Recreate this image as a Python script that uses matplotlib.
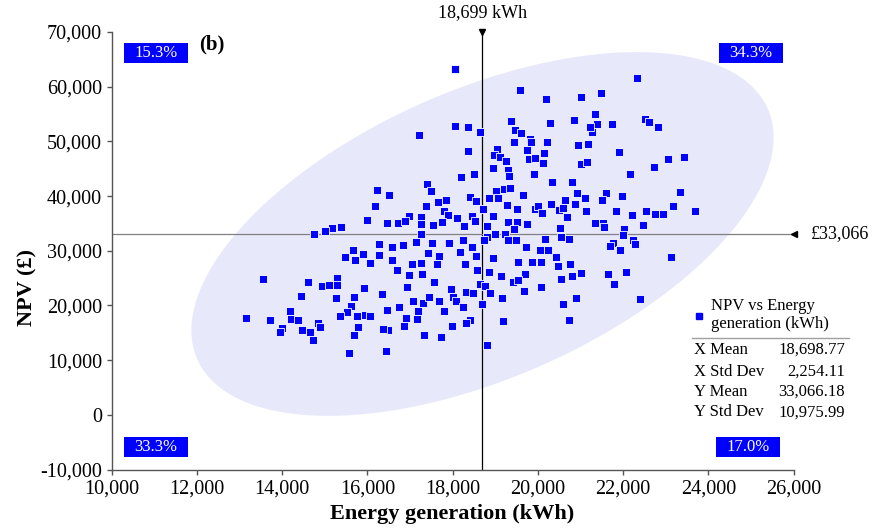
import numpy as np
import matplotlib
matplotlib.use('Agg')
import matplotlib.pyplot as plt
from matplotlib.patches import Rectangle
from matplotlib.ticker import FuncFormatter, FixedLocator
from matplotlib.lines import Line2D

# ---------------- data ----------------
energy_kwh = [
    17220, 17400, 17490, 16230, 16510, 16180, 17380, 17650, 17850, 17800,
    17900, 15980, 16970, 17260, 16460, 16710, 16880, 17260, 17530, 17760,
    15390, 15180, 14750, 15010, 17250, 16280, 16580, 16840, 17130, 17510,
    17900, 15650, 15900, 16280, 17430, 17680, 15470, 15710, 16050, 16570,
    17050, 17250, 17620, 16690, 16970, 17290, 13560, 15290, 14600, 14930,
    15100, 15290, 15920, 16930, 17560, 16350, 14430, 15260, 15690, 17070,
    17300, 17450, 17680, 15610, 16730, 16460, 17190, 17790, 14190, 15510,
    15360, 15760, 15940, 16060, 16900, 17160, 13150, 13710, 14210, 14360,
    14840, 14890, 13990, 13960, 14460, 14660, 15790, 16480, 16360, 16860,
    15690, 17330, 17720, 14730, 15560, 16440, 18050, 19580, 20180, 21020,
    21470, 22320, 19370, 20280, 20840, 21350, 21380, 21740, 22500, 22610,
    22820, 18050, 18370, 18640, 19470, 19600, 21260, 21220, 19430, 19810,
    19830, 20210, 20930, 21170, 18370, 19040, 18980, 19110, 19740, 20140,
    21890, 19240, 19780, 19940, 20120, 21020, 21150, 22730, 18950, 19290,
    19310, 19900, 22160, 18190, 18500, 20320, 20790, 19020, 19200, 19350,
    19650, 20910, 21600, 21970, 18410, 18550, 18840, 19060, 19270, 19520,
    19920, 19990, 20310, 20490, 20630, 20590, 20860, 21110, 21500, 18710,
    21130, 21830, 22210, 22540, 22750, 18100, 18450, 18530, 18950, 20100,
    20680, 18260, 18800, 19290, 19520, 19740, 19440, 20520, 21340, 21530,
    21550, 22030, 22460, 18800, 19000, 19230, 20530, 20730, 22000, 17920,
    18230, 18730, 19290, 19490, 20170, 21760, 21690, 22230, 22280, 18450,
    19720, 18170, 20050, 20240, 21930, 18550, 18950, 20420, 18300, 19540,
    19850, 20080, 20460, 20750, 18570, 18840, 19130, 19700, 21020, 21650,
    22060, 19410, 19540, 20550, 20800, 21780, 18640, 18760, 20080, 17960,
    18320, 18480, 18870, 19670, 18010, 18080, 19160, 20890, 22390, 18680,
    20590, 18230, 18410, 18310, 17980, 19180, 20730, 18800, 23040, 23420,
    23330, 23170, 22930, 23690, 23110,
]
npv_gbp = [
    51200, 42200, 40900, 41100, 40200, 38100, 38200, 39000, 39200, 37200,
    36500, 35600, 36400, 36100, 35100, 35100, 35500, 34800, 34700, 35300,
    34300, 34100, 33100, 33600, 33100, 31200, 30700, 31100, 31600, 31400,
    31400, 30100, 29400, 29200, 29500, 29000, 28900, 28300, 27800, 28300,
    27600, 27800, 27500, 26400, 25600, 25800, 24900, 25100, 24200, 23500,
    23700, 23700, 23100, 23300, 24200, 22100, 21800, 21400, 21600, 20900,
    20400, 21600, 20900, 19900, 19700, 19200, 18900, 19000, 18900, 18800,
    18000, 18000, 18200, 18000, 17700, 17500, 17700, 17300, 17500, 17300,
    16800, 16000, 15900, 15100, 15500, 15100, 16100, 15600, 15700, 16300,
    14600, 14600, 14200, 13600, 11300, 11700, 63200, 59400, 57700, 58100,
    58900, 61600, 53800, 53400, 53900, 55000, 53100, 53200, 54100, 53600,
    52700, 52900, 52600, 51800, 52000, 51500, 51700, 52700, 49900, 50400,
    49900, 49900, 49300, 49500, 48200, 48600, 47600, 47200, 48400, 47900,
    48100, 46400, 46700, 46900, 46000, 45900, 46200, 45300, 45200, 44700,
    43700, 44100, 44000, 43400, 44000, 42600, 42600, 40900, 41200, 41500,
    40200, 40600, 40600, 40000, 39800, 39100, 39700, 39700, 38300, 37600,
    37600, 38100, 38500, 37400, 39200, 37900, 38600, 39600, 39300, 37600,
    37300, 37300, 36500, 37300, 36700, 35900, 36400, 35500, 36300, 36900,
    36200, 34600, 34600, 35200, 35200, 34900, 34000, 34100, 35000, 35000,
    34400, 33900, 34700, 32600, 33100, 33100, 32500, 32100, 32900, 31400,
    31900, 31900, 31900, 31900, 32100, 31400, 30900, 31900, 31200, 30600,
    30700, 29800, 30100, 30100, 30100, 29000, 28700, 28900, 27600, 28000,
    28000, 28000, 27300, 27600, 26400, 26100, 25400, 25700, 25900, 25700,
    26100, 24300, 24700, 24900, 25400, 23900, 23900, 23500, 23300, 23000,
    22500, 22300, 22300, 22600, 21500, 20900, 21400, 21400, 21100, 20300,
    20300, 19700, 17300, 16800, 16300, 17200, 17300, 12800, 46700, 47200,
    40700, 38100, 36800, 37300, 28900,
]

x_mean = 18698.77
x_std = 2254.11
y_mean = 33066.18
y_std = 10975.99
corr_est = 0.53          # estimated from the ellipse tilt
ellipse_k = 3.03         # ellipse scale (about 99 %)

quad_labels = ['15.3%', '34.3%', '33.3%', '17.0%']   # TL, TR, BL, BR
stat_names = ['X Mean', 'X Std Dev', 'Y Mean', 'Y Std Dev']
stat_values = ['18,698.77', '2,254.11', '33,066.18', '10,975.99']
series_name = ['NPV vs Energy', 'generation (kWh)']

x_ticks = list(range(10000, 26001, 2000))
y_ticks = list(range(-10000, 70001, 10000))

# ---------------- figure ----------------
plt.rcParams['font.family'] = ['Liberation Serif', 'DejaVu Serif']
W, H = 873, 529
fig = plt.figure(figsize=(W / 100, H / 100), dpi=100)
ax = fig.add_axes([111.7 / W, 1 - 469.5 / H, 682 / W, 437.5 / H])
ax.set_xlim(10000, 26000)
ax.set_ylim(-10000, 70000)

# confidence ellipse
t = np.linspace(0, 2 * np.pi, 500)
ex = x_mean + ellipse_k * x_std * np.cos(t)
ey = y_mean + ellipse_k * y_std * (corr_est * np.cos(t) + np.sqrt(1 - corr_est ** 2) * np.sin(t))
ax.fill(ex, ey, color='#E8E8FB', lw=0, zorder=1)

# mean lines
ax.axvline(x_mean, color='black', lw=0.9, zorder=2)
ax.axhline(y_mean, color='#808080', lw=0.9, zorder=2)
ax.plot([x_mean], [70000], marker='v', color='black', ms=5, clip_on=False, zorder=5)
ax.plot([26000], [y_mean], marker='<', color='black', ms=5, clip_on=False, zorder=5)
ax.annotate('18,699 kWh', xy=(x_mean, 70000), xytext=(0, 13.7), textcoords='offset points',
            ha='center', va='center', fontsize=13)
ax.annotate('£33,066', xy=(26000, y_mean), xytext=(12.5, 0), textcoords='offset points',
            ha='left', va='center', fontsize=13)

# points
ax.scatter(energy_kwh, npv_gbp, marker='s', s=34, c='#0000FF', edgecolors='white',
           linewidths=0.6, zorder=3)

# axes styling
for side in ['top', 'right']:
    ax.spines[side].set_visible(False)
for side in ['left', 'bottom']:
    ax.spines[side].set_color('#555555')
    ax.spines[side].set_linewidth(1.0)
ax.xaxis.set_major_locator(FixedLocator(x_ticks))
ax.yaxis.set_major_locator(FixedLocator(y_ticks))
fmt = FuncFormatter(lambda v, p: f'{int(v):,}')
ax.xaxis.set_major_formatter(fmt)
ax.yaxis.set_major_formatter(fmt)
ax.tick_params(axis='both', direction='out', length=3.5, width=1.0, color='#555555',
               labelsize=14.5, labelcolor='black')
ax.tick_params(axis='x', pad=3.5)
ax.tick_params(axis='y', pad=3.5)

ax.set_xlabel('Energy generation (kWh)', fontsize=16, fontweight='bold', va='center')
ax.xaxis.set_label_coords((452 - 111.7) / 682, (469.5 - 514) / 437.5)
ax.set_ylabel('NPV (£)', fontsize=16, fontweight='bold', va='center')
ax.yaxis.set_label_coords((27 - 111.7) / 682, (469.5 - 288) / 437.5)

# panel label
ax.text((199 - 111.7) / 682, (469.5 - 44) / 437.5, '(b)', transform=ax.transAxes,
        fontsize=15, fontweight='bold', ha='left', va='center')

# quadrant percentage boxes (pixel boxes converted to axes fractions)
box_px = [(124, 43), (719, 43), (124, 437), (716, 437)]
for (bx, by), lab in zip(box_px, quad_labels):
    x0 = (bx - 111.7) / 682
    y0 = (469.5 - (by + 20)) / 437.5
    w = 64 / 682
    h = 20 / 437.5
    ax.add_patch(Rectangle((x0, y0), w, h, transform=ax.transAxes, facecolor='#0000FF',
                           edgecolor='none', clip_on=False, zorder=6))
    ax.text(x0 + w / 2, y0 + h / 2, lab, transform=ax.transAxes, ha='center', va='center',
            color='white', fontsize=12, zorder=7)

# legend / statistics block
def fx(px):
    return px / W

def fy(py):
    return 1 - py / H

fig.add_artist(Line2D([fx(699)], [fy(316)], marker='s', color='#0000FF', ms=4.5,
                      linestyle='none', transform=fig.transFigure))
fig.text(fx(711), fy(306), series_name[0], ha='left', va='center', fontsize=12)
fig.text(fx(711), fy(324), series_name[1], ha='left', va='center', fontsize=12)
fig.add_artist(Line2D([fx(692), fx(849)], [fy(338.3), fy(338.3)], color='#A0A0A0', lw=1.0,
                      transform=fig.transFigure))
row_y = [350, 371.5, 392, 412.5]
for name, val, ry in zip(stat_names, stat_values, row_y):
    fig.text(fx(694), fy(ry), name, ha='left', va='center', fontsize=12)
    fig.text(fx(845), fy(ry), val, ha='right', va='center', fontsize=12)

fig.savefig('out.png', dpi=100)
